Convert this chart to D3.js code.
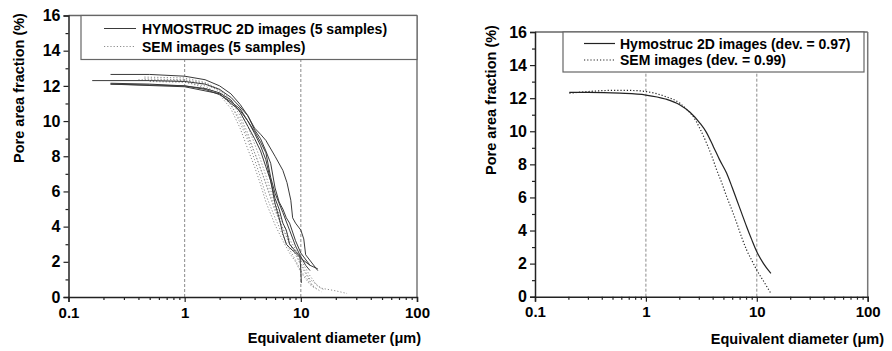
<!DOCTYPE html>
<html><head><meta charset="utf-8">
<script src="https://cdn.jsdelivr.net/npm/d3@7"></script>
<style>
html,body{margin:0;padding:0;background:#fff;}
svg{display:block;}
text{font-family:"Liberation Sans",Arial,sans-serif;font-weight:bold;fill:#000;}
</style></head>
<body>
<svg id="chart" width="892" height="351"></svg>
<script>
// ---------- data ----------
const xTickLabels = ["0.1", "1", "10", "100"];
const xTickValues = [0.1, 1, 10, 100];
const yTickValues = [0, 2, 4, 6, 8, 10, 12, 14, 16];
const gridValues = [1, 10];
const yTitle = "Pore area fraction (%)";
const xTitle = "Equivalent diameter (\u03bcm)";

const leftLegend = ["HYMOSTRUC 2D images (5 samples)", "SEM images (5 samples)"];
const rightLegend = ["Hymostruc 2D images (dev. = 0.97)", "SEM images (dev. = 0.99)"];

// left panel: 5 HYMOSTRUC (solid) samples, [diameter µm, pore area %]
const hymo1 = [[0.23,12.65],[0.5,12.65],[1,12.55],[1.5,12.35],[2,12.0],[2.5,11.55],[3,10.95],[3.5,10.3],[4,9.6],[4.5,9.25],[5,8.9],[6,8.0],[7,7.2],[7.6,6.5],[8.2,5.5],[8.5,4.5],[9,4.2],[10,3.8],[10.6,3.3],[11,2.4],[14,1.5]];
const hymo2 = [[0.16,12.3],[0.5,12.3],[1,12.25],[1.5,12.1],[2,11.8],[2.5,11.35],[3,10.8],[3.5,10.3],[4,9.5],[4.5,9.0],[5,8.3],[5.5,7.6],[6,6.2],[6.5,5.4],[7,5.0],[7.5,4.5],[8,4.2],[9,3.2],[10,2.5],[12,1.8],[14,1.6]];
const hymo3 = [[0.23,12.1],[0.5,12.05],[1,12.0],[1.5,11.8],[2,11.5],[2.5,11.1],[3,10.7],[3.5,10.0],[4,9.3],[4.5,8.6],[5,7.8],[5.5,6.6],[6,5.6],[6.5,5.0],[7,4.2],[7.5,3.8],[8,3.0],[9,2.6],[10,2.3],[11,1.8],[12,1.5]];
const hymo4 = [[0.23,12.15],[0.5,12.1],[1,12.0],[1.5,11.85],[2,11.6],[2.5,11.2],[3,10.5],[3.5,9.7],[4,9.0],[4.5,8.3],[5,7.4],[5.5,6.6],[6,5.3],[6.5,4.5],[7,3.6],[7.5,3.0],[8,2.8],[9,2.5],[10,2.2],[12,1.8]];
const hymo5 = [[0.23,12.1],[1,11.95],[2,11.55],[2.5,11.0],[3,10.6],[3.5,10.0],[4,9.4],[4.5,8.8],[5,8.2],[5.5,6.8],[6,5.9],[7,4.8],[8,3.8],[9,2.9],[9.8,2.4],[10,1.5],[10.1,0.8]];

// left panel: 5 SEM (dotted) samples
const sem1 = [[0.45,12.5],[1,12.45],[1.5,12.2],[2,11.8],[2.5,11.2],[3,10.3],[3.5,9.3],[4,8.2],[4.5,7.3],[5,6.4],[6,4.9],[7,3.9],[8,3.1],[9,2.5],[10,1.9],[12,1.0],[15,0.5],[20,0.35],[25,0.2]];
const sem2 = [[0.4,12.35],[1,12.3],[1.5,12.1],[2,11.7],[2.5,10.95],[3,9.9],[3.5,8.9],[4,7.8],[4.5,6.8],[5,5.8],[6,4.5],[7,3.5],[8,2.7],[9,2.1],[10,1.5],[12,0.8],[14,0.4]];
const sem3 = [[0.5,12.25],[1,12.2],[1.5,12.0],[2,11.5],[2.5,10.7],[3,9.6],[3.5,8.4],[4,7.4],[4.5,6.4],[5,5.4],[6,4.1],[7,3.2],[8,2.5],[9,2.0],[10,1.4],[12,0.7],[15,0.3]];
const sem4 = [[0.45,12.4],[1,12.35],[1.5,12.15],[2,11.75],[2.5,11.2],[3,10.5],[3.5,9.7],[4,8.7],[4.5,7.8],[5,6.9],[6,5.3],[7,4.2],[8,3.3],[9,2.7],[10,2.1],[12,1.2],[14,0.6],[16,0.4]];
const sem5 = [[0.5,12.3],[1,12.25],[2,11.6],[2.5,10.9],[3,10.1],[3.5,9.1],[4,8.2],[4.5,7.3],[5,6.5],[6,5.0],[7,3.9],[8,3.0],[9,2.4],[10,1.8],[12,0.9],[13,0.5]];

// right panel: fitted curves
const hymoFit = [[0.204,12.35],[0.3,12.35],[0.583,12.3],[1,12.19],[1.5,11.95],[2.03,11.59],[2.5,11.15],[3.08,10.48],[3.5,9.95],[4.06,9.07],[4.6,8.3],[5.35,7.46],[6.0,6.6],[6.6,5.85],[7.3,5.05],[8.1,4.23],[9.0,3.45],[10,2.72],[11.5,2.0],[13.4,1.41]];
const semFit = [[0.204,12.3],[0.3,12.4],[0.5,12.47],[0.7,12.47],[1,12.4],[1.5,12.1],[2.03,11.69],[2.35,11.3],[2.68,10.88],[3.1,10.1],[3.53,9.27],[3.95,8.45],[4.35,7.66],[4.85,6.85],[5.35,6.05],[6.0,5.2],[6.6,4.44],[7.3,3.6],[8.1,2.82],[9.0,2.2],[10,1.61],[11.6,0.9],[13.4,0.2]];

const hymoSamples = [hymo1, hymo2, hymo3, hymo4, hymo5];
const semSamples = [sem1, sem2, sem3, sem4, sem5];

// ---------- drawing ----------
const svg = d3.select("#chart");

function minorX() {
  const v = [];
  for (let d = 0.1; d < 100; d *= 10) for (let k = 2; k <= 9; k++) v.push(+(d * k).toPrecision(3));
  return v;
}
const yMinor = [1, 3, 5, 7, 9, 11, 13, 15];

function panel(cfg) {
  const x = d3.scaleLog().domain([0.1, 100]).range([cfg.x0, cfg.x1]);
  const y = d3.scaleLinear().domain([0, 16]).range([cfg.y0, cfg.y1]);
  const g = svg.append("g");

  // grid lines
  g.selectAll("line.grid").data(gridValues).join("line")
    .attr("x1", d => x(d)).attr("x2", d => x(d))
    .attr("y1", y(0)).attr("y2", y(16))
    .attr("stroke", "#8a8a8a").attr("stroke-width", 1).attr("stroke-dasharray", "3,2");

  // frame top / right
  g.append("line").attr("x1", x(0.1)).attr("x2", x(100)).attr("y1", y(16)).attr("y2", y(16))
    .attr("stroke", "#666").attr("stroke-width", 1.5);
  g.append("line").attr("x1", x(100)).attr("x2", x(100)).attr("y1", y(16)).attr("y2", y(0))
    .attr("stroke", "#777").attr("stroke-width", 1.5);

  const line = d3.line().x(d => x(d[0])).y(d => y(d[1])).curve(cfg.curve);

  cfg.series.forEach(s => {
    g.append("path").datum(s.data).attr("d", line).attr("fill", "none")
      .attr("stroke", s.color).attr("stroke-width", s.width)
      .attr("stroke-dasharray", s.dash || null);
  });

  // legend
  const lg = g.append("g");
  lg.append("rect").attr("x", cfg.lx0).attr("y", cfg.ly0).attr("width", cfg.lx1 - cfg.lx0).attr("height", cfg.ly1 - cfg.ly0)
    .attr("fill", "#fff").attr("stroke", "#666").attr("stroke-width", 1.2);
  cfg.legend.forEach((L, i) => {
    const yy = cfg.legRows[i];
    lg.append("line").attr("x1", cfg.legLine[0]).attr("x2", cfg.legLine[1]).attr("y1", yy).attr("y2", yy)
      .attr("stroke", L.color).attr("stroke-width", L.width).attr("stroke-dasharray", L.dash || null);
    lg.append("text").attr("x", cfg.legText).attr("y", yy + 5).attr("font-size", 14).text(L.label);
  });

  // axes
  const ax = g.append("g").attr("transform", `translate(0,${y(0)})`)
    .call(d3.axisBottom(x).tickValues(xTickValues).tickFormat((d, i) => xTickLabels[i]).tickSize(5).tickPadding(5));
  g.append("g").attr("transform", `translate(0,${y(0)})`)
    .call(d3.axisBottom(x).tickValues(minorX()).tickFormat("").tickSize(3))
    .call(s => s.select(".domain").remove());
  const ay = g.append("g").attr("transform", `translate(${x(0.1)},0)`)
    .call(d3.axisLeft(y).tickValues(yTickValues).tickFormat(d3.format("d")).tickSize(5).tickPadding(3));
  g.append("g").attr("transform", `translate(${x(0.1)},0)`)
    .call(d3.axisLeft(y).tickValues(yMinor).tickFormat("").tickSize(3))
    .call(s => s.select(".domain").remove());
  [[ax, 15], [ay, 16]].forEach(([a, fs]) => {
    a.selectAll("text").attr("font-size", fs).attr("font-family", "Liberation Sans, Arial, sans-serif").attr("font-weight", "bold").attr("fill", "#000");
    a.select(".domain").attr("stroke", "#222").attr("stroke-width", 1.5);
  });
  g.selectAll(".tick line").attr("stroke", "#222").attr("stroke-width", 1.2);

  // titles
  g.append("text").attr("transform", `translate(${cfg.ytx},${cfg.yty}) rotate(-90)`)
    .attr("text-anchor", "middle").attr("font-size", 14.5).text(yTitle);
  g.append("text").attr("x", cfg.xtx).attr("y", cfg.xty).attr("text-anchor", "end")
    .attr("font-size", 14.5).text(xTitle);
}

const dotted = "1.2,2";

panel({
  x0: 68.5, x1: 417, y0: 297, y1: 15.5,
  curve: d3.curveLinear,
  series: [
    ...semSamples.map(d => ({data: d, color: "#8c8c8c", width: 1, dash: dotted})),
    ...hymoSamples.map(d => ({data: d, color: "#3a3a3a", width: 1}))
  ],
  lx0: 81, lx1: 417, ly0: 15.5, ly1: 59.5,
  legRows: [28.5, 46.5], legLine: [104, 136], legText: 142,
  legend: [
    {label: leftLegend[0], color: "#3a3a3a", width: 1},
    {label: leftLegend[1], color: "#8c8c8c", width: 1, dash: dotted}
  ],
  ytx: 24, yty: 88, xtx: 421, xty: 343
});

panel({
  x0: 535, x1: 867.7, y0: 296.7, y1: 32,
  curve: d3.curveMonotoneX,
  series: [
    {data: semFit, color: "#222", width: 1.2, dash: dotted},
    {data: hymoFit, color: "#222", width: 1.2}
  ],
  lx0: 563, lx1: 864, ly0: 32, ly1: 72,
  legRows: [43.5, 60], legLine: [584, 615], legText: 620,
  legend: [
    {label: rightLegend[0], color: "#222", width: 1.2},
    {label: rightLegend[1], color: "#222", width: 1.2, dash: dotted}
  ],
  ytx: 496, yty: 100, xtx: 884, xty: 344
});
</script>
</body></html>
